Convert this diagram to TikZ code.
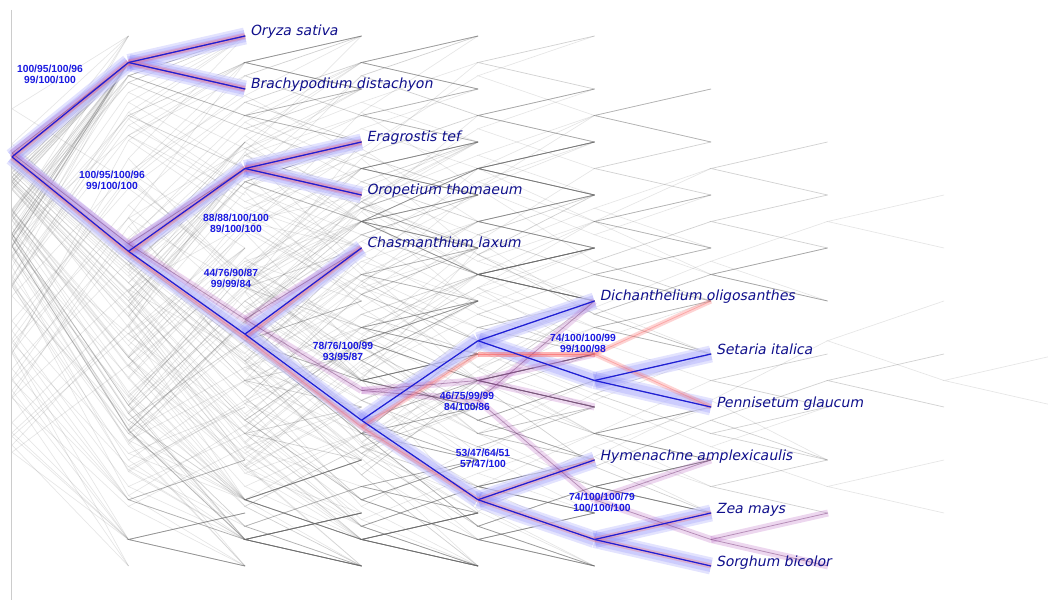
\documentclass[tikz,border=0pt]{standalone}
\usepackage{tikz}
\usepackage{xcolor}
\usepackage{fontspec}
\newfontfamily\taxonfont{DejaVu Sans}[FakeSlant=0.2]
\newfontfamily\supportfont{Liberation Sans}[BoldFont={Liberation Sans Bold}]

\definecolor{taxonblue}{RGB}{16,16,140}
\definecolor{supportblue}{RGB}{25,25,225}
\definecolor{treeblue}{RGB}{30,30,215}
\definecolor{bandblue}{RGB}{115,115,250}
\definecolor{bandpurple}{RGB}{185,100,195}
\definecolor{linepurple}{RGB}{115,55,115}
\definecolor{bandred}{RGB}{250,110,110}
\definecolor{cloudgray}{RGB}{100,100,100}

\tikzset{
	cloud/.style={draw=cloudgray, line width=0.7bp, opacity=0.16},
	axisline/.style={draw=black!20, line width=0.8bp},
	underlay/.style={draw=white, line width=15bp, opacity=0.6},
	bandwide/.style={draw=bandblue, line width=17bp, opacity=0.2},
	bandnarrow/.style={draw=bandblue, line width=12bp, opacity=0.2},
	purpleband/.style={draw=bandpurple, line width=7bp, opacity=0.26},
	redband/.style={draw=bandred, line width=5bp, opacity=0.3},
	purplethin/.style={draw=linepurple, line width=0.8bp, opacity=0.45},
	redthin/.style={draw=bandred, line width=0.8bp, opacity=0.45},
	bluethin/.style={draw=treeblue, line width=1.2bp},
	taxon/.style={anchor=base west, xshift=5bp, inner sep=0pt, text=taxonblue, font=\taxonfont\fontsize{14bp}{16bp}\selectfont},
	support/.style={align=center, inner sep=0pt, text=supportblue, font=\supportfont\bfseries\fontsize{10.3bp}{11bp}\selectfont}
}

% splits of the highlighted tree, taken more often by the cloud
\newcommand\cloudbias{0.62}
\expandafter\def\csname cut-0-10\endcsname{1}
\expandafter\def\csname cut-2-10\endcsname{3}
\expandafter\def\csname cut-4-10\endcsname{4}
\expandafter\def\csname cut-5-10\endcsname{7}
\expandafter\def\csname cut-5-7\endcsname{5}
\expandafter\def\csname cut-8-10\endcsname{8}

\newcommand\pickcut[2]{%
	\pgfmathsetmacro\ctroll{rnd}%
	\pgfmathtruncatemacro\ctlast{#2-1}%
	\pgfmathrandominteger{\ctcut}{#1}{\ctlast}%
	\ifcsname cut-#1-#2\endcsname
		\ifdim\ctroll pt<\cloudbias pt
			\edef\ctcut{\csname cut-#1-#2\endcsname}%
		\fi
	\fi}

\newcommand\cloudtree[3]{%
	\ifnum#1=#2\relax
		\pgfmathsetmacro\cty{36+53*#1}%
		\global\let\ctret\cty
	\else
		\begingroup
		\pickcut{#1}{#2}%
		\pgfmathtruncatemacro\ctdeep{#3+1}%
		\pgfmathtruncatemacro\ctnext{\ctcut+1}%
		\edef\ctcall{\noexpand\cloudtree{#1}{\ctcut}{\ctdeep}}\ctcall
		\let\cta\ctret
		\edef\ctcall{\noexpand\cloudtree{\ctnext}{#2}{\ctdeep}}\ctcall
		\let\ctb\ctret
		\pgfmathsetmacro\ctc{(\cta+\ctb)/2}%
		\pgfmathsetmacro\ctxa{12+116.5*#3}%
		\pgfmathsetmacro\ctxb{12+116.5*\ctdeep}%
		\draw[cloud] (\ctxb,\cta) -- (\ctxa,\ctc) -- (\ctxb,\ctb);
		\global\let\ctret\ctc
		\endgroup
	\fi}

\begin{document}
\begin{tikzpicture}[x=1bp, y=-1bp]
	\useasboundingbox (0,0) rectangle (1048,603);
	\begin{scope}
		\clip (0,0) rectangle (1048,603);
		\pgfmathsetseed{1717}
		\foreach \k in {1,...,100} {\cloudtree{0}{10}{0}}
	\end{scope}
	\coordinate (axistop) at (11,10);
	\coordinate (axisbottom) at (11,600);
	\draw[axisline] (axistop) -- (axisbottom);

	% highlighted tree
	\coordinate (root) at (12,156.9);
	\coordinate (ob) at (128.5,62.5);
	\coordinate (pm) at (128.5,251.3);
	\coordinate (eo) at (245,168.5);
	\coordinate (cx) at (245,334.1);
	\coordinate (pa) at (361.5,420.25);
	\coordinate (dsp) at (478,340.75);
	\coordinate (sp) at (594.5,380.5);
	\coordinate (hzs) at (478,499.75);
	\coordinate (zs) at (594.5,539.5);
	\coordinate (oryza) at (245,36);
	\coordinate (brachy) at (245,89);
	\coordinate (erag) at (361.5,142);
	\coordinate (orop) at (361.5,195);
	\coordinate (chas) at (361.5,248);
	\coordinate (dich) at (594.5,301);
	\coordinate (seta) at (711,354);
	\coordinate (penn) at (711,407);
	\coordinate (hyme) at (594.5,460);
	\coordinate (zea) at (711,513);
	\coordinate (sorg) at (711,566);
	% second tree
	\coordinate (proot) at (12,153.2);
	\coordinate (ppm) at (128.5,243.9);
	\coordinate (pcx) at (245,319.2);
	\coordinate (ppa) at (361.5,390.4);
	\coordinate (psp) at (478,380.5);
	\coordinate (pdh) at (478,400.4);
	\coordinate (phz) at (594.5,499.75);
	\coordinate (pzs) at (711,539.5);
	\coordinate (pseta) at (594.5,354);
	\coordinate (ppenn) at (594.5,407);
	\coordinate (phyme) at (711,460);
	\coordinate (pzea) at (828,513);
	\coordinate (psorg) at (828,566);
	% third tree
	\coordinate (rroot) at (12,157.7);
	\coordinate (rpm) at (128.5,253);
	\coordinate (rcx) at (245,337.4);
	\coordinate (rpa) at (361.5,426.9);
	\coordinate (rsp) at (478,354);
	\coordinate (rdp) at (594.5,354);
	\coordinate (rdich) at (711,301);
	\coordinate (rpenn) at (711,407);

	\def\bluetree{root/ob, ob/oryza, ob/brachy, root/pm, pm/eo, eo/erag, eo/orop, pm/cx, cx/chas, cx/pa, pa/dsp, dsp/dich, dsp/sp, sp/seta, sp/penn, pa/hzs, hzs/hyme, hzs/zs, zs/zea, zs/sorg}
	\def\purpletree{proot/ob, ob/oryza, ob/brachy, proot/ppm, ppm/eo, eo/erag, eo/orop, ppm/pcx, pcx/chas, pcx/ppa, ppa/psp, psp/pseta, psp/ppenn, ppa/pdh, pdh/dich, pdh/phz, phz/phyme, phz/pzs, pzs/pzea, pzs/psorg}
	\def\redtree{rroot/ob, ob/oryza, ob/brachy, rroot/rpm, rpm/eo, eo/erag, eo/orop, rpm/rcx, rcx/chas, rcx/rpa, rpa/rsp, rsp/pseta, rsp/rdp, rdp/rdich, rdp/rpenn, rpa/hzs, hzs/hyme, hzs/zs, zs/zea, zs/sorg}

	\foreach \p/\c in \bluetree {\draw[underlay] (\p) -- (\c);}
	\foreach \p/\c in \bluetree {\draw[bandwide] (\p) -- (\c); \draw[bandnarrow] (\p) -- (\c);}
	\foreach \p/\c in \purpletree {\draw[purpleband] (\p) -- (\c);}
	\foreach \p/\c in \redtree {\draw[redband] (\p) -- (\c);}
	\foreach \p/\c in \purpletree {\draw[purplethin] (\p) -- (\c);}
	\foreach \p/\c in \redtree {\draw[redthin] (\p) -- (\c);}
	\foreach \p/\c in \bluetree {\draw[bluethin] (\p) -- (\c);}

	\node[taxon] (tOryza) at (oryza) {Oryza sativa};
	\node[taxon] (tBrachy) at (brachy) {Brachypodium distachyon};
	\node[taxon] (tErag) at (erag) {Eragrostis tef};
	\node[taxon] (tOrop) at (orop) {Oropetium thomaeum};
	\node[taxon] (tChas) at (chas) {Chasmanthium laxum};
	\node[taxon] (tDich) at (dich) {Dichanthelium oligosanthes};
	\node[taxon] (tSeta) at (seta) {Setaria italica};
	\node[taxon] (tPenn) at (penn) {Pennisetum glaucum};
	\node[taxon] (tHyme) at (hyme) {Hymenachne amplexicaulis};
	\node[taxon] (tZea) at (zea) {Zea mays};
	\node[taxon] (tSorg) at (sorg) {Sorghum bicolor};

	\node[support] (sOB) at (50,74.5) {100/95/100/96\\99/100/100};
	\node[support] (sPM) at (112,180) {100/95/100/96\\99/100/100};
	\node[support] (sEO) at (236,223.5) {88/88/100/100\\89/100/100};
	\node[support] (sCX) at (231,278) {44/76/90/87\\99/99/84};
	\node[support] (sPA) at (343,351.5) {78/76/100/99\\93/95/87};
	\node[support] (sDSP) at (467,401.5) {46/75/99/99\\84/100/86};
	\node[support] (sSP) at (583,343.5) {74/100/100/99\\99/100/98};
	\node[support] (sHZS) at (483,458) {53/47/64/51\\57/47/100};
	\node[support] (sZS) at (602,502.5) {74/100/100/79\\100/100/100};
\end{tikzpicture}
\end{document}
